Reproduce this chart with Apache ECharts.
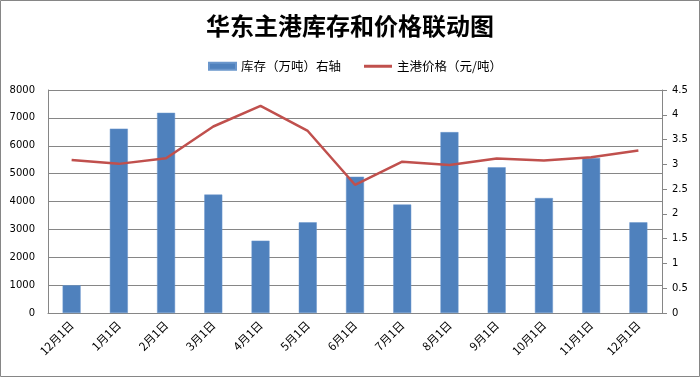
<!DOCTYPE html>
<html><head><meta charset="utf-8">
<script src="https://cdn.jsdelivr.net/npm/echarts@6/dist/echarts.min.js"></script>
<style>html,body{margin:0;padding:0;background:#fff}#c{width:700px;height:377px}</style>
</head><body><div id="c"></div>
<script>
const categories = ['12月1日','1月1日','2月1日','3月1日','4月1日','5月1日','6月1日','7月1日','8月1日','9月1日','10月1日','11月1日','12月1日'];
const inventory = [0.56, 3.72, 4.04, 2.39, 1.46, 1.83, 2.75, 2.19, 3.65, 2.94, 2.32, 3.13, 1.83];
const price = [5490, 5350, 5550, 6690, 7430, 6530, 4600, 5430, 5310, 5540, 5470, 5590, 5830];
const leftTicks = [0, 8000, 1000];
const rightTicks = [0, 4.5, 0.5];

const chart = echarts.init(document.getElementById('c'), null, {renderer: 'canvas'});
const lab = {color: '#000', fontFamily: 'DejaVu Sans', fontSize: 10};
const legText = {fontFamily: 'Noto Sans CJK SC', fontSize: 12.5, color: '#000'};
chart.setOption({
  animation: false,
  graphic: [{type: 'rect', shape: {x: 0.5, y: 0.5, width: 699, height: 376}, style: {fill: 'none', stroke: '#868686', lineWidth: 1}}],
  title: {
    text: '华东主港库存和价格联动图', left: 'center', top: 9,
    textStyle: {fontFamily: 'Noto Sans CJK SC', fontWeight: 'bold', fontSize: 24, color: '#000'}
  },
  legend: [
    {left: 203, top: 55, itemWidth: 27, itemHeight: 7, textStyle: legText,
     data: [{name: '库存（万吨）右轴', icon: 'rect'}]},
    {left: 359, top: 55, itemWidth: 28, itemHeight: 3, textStyle: legText,
     data: [{name: '主港价格（元/吨）', icon: 'rect'}]}
  ],
  grid: {left: 48, right: 38, top: 90, bottom: 64},
  xAxis: {
    type: 'category', data: categories,
    axisLine: {lineStyle: {color: '#868686'}},
    axisTick: {show: false},
    axisLabel: {color: '#000', fontFamily: 'Noto Sans CJK SC', fontSize: 11.5, rotate: 45, interval: 0, margin: 10}
  },
  yAxis: [
    {type: 'value', min: leftTicks[0], max: leftTicks[1], interval: leftTicks[2], position: 'left',
     axisLine: {show: true, lineStyle: {color: '#868686'}}, axisTick: {show: false},
     splitLine: {lineStyle: {color: '#868686', width: 1}},
     axisLabel: Object.assign({}, lab, {margin: 13, formatter: v => String(v)})},
    {type: 'value', min: rightTicks[0], max: rightTicks[1], interval: rightTicks[2], position: 'right',
     axisLine: {show: true, lineStyle: {color: '#868686'}}, axisTick: {show: true, length: 5, lineStyle: {color: '#868686'}},
     splitLine: {show: false},
     axisLabel: Object.assign({}, lab, {margin: 10, formatter: v => String(v)})}
  ],
  series: [
    {name: '库存（万吨）右轴', type: 'bar', yAxisIndex: 1, data: inventory, barWidth: 18,
     itemStyle: {color: '#4F81BD', borderColor: '#6A96CC', borderWidth: 0.5}, z: 2},
    {name: '主港价格（元/吨）', type: 'line', yAxisIndex: 0, data: price, symbol: 'none',
     lineStyle: {color: '#C0504D', width: 2.5}, itemStyle: {color: '#C0504D'}, z: 3}
  ]
});
</script></body></html>
